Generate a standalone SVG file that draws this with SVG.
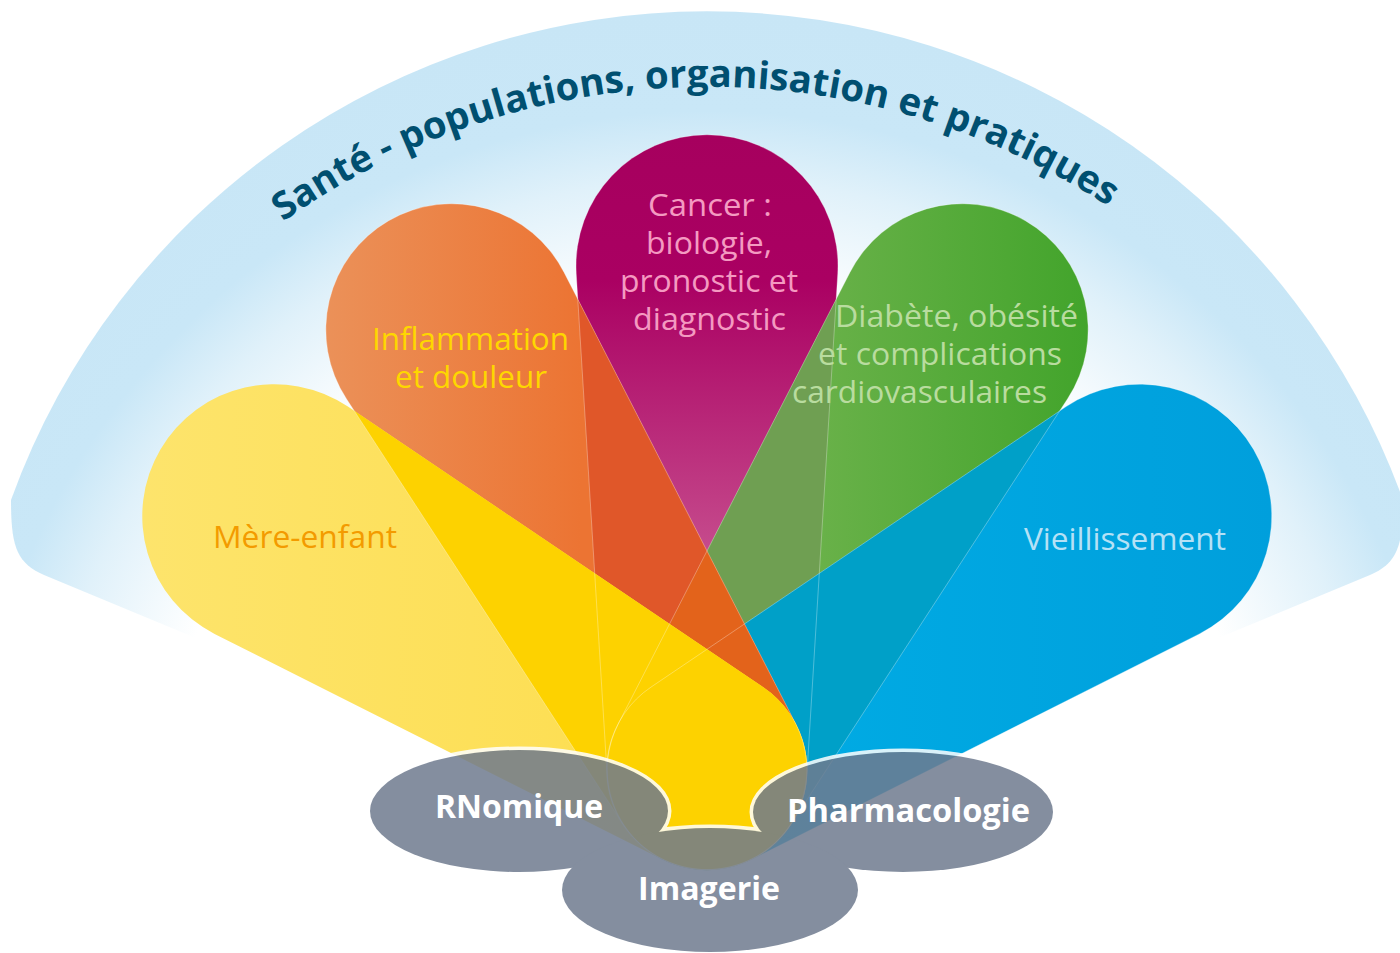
<svg xmlns="http://www.w3.org/2000/svg" xmlns:xlink="http://www.w3.org/1999/xlink" width="1400" height="953" viewBox="0 0 1400 953">
<defs>
<style>
.lbl{font-family:"Open Sans","Noto Sans","Liberation Sans",sans-serif;font-size:31px;font-weight:400}
.cl{font-family:"Open Sans","Noto Sans","Liberation Sans",sans-serif;font-size:32px;font-weight:700;fill:#ffffff}
.arc{font-family:"Open Sans","Noto Sans","Liberation Sans",sans-serif;font-size:38px;font-weight:700;fill:#004f70}
.edge{fill:none;stroke:#ffffff;stroke-opacity:0.3;stroke-width:1}
</style>
<radialGradient id="gBg" gradientUnits="userSpaceOnUse" cx="707" cy="850" r="840">
<stop offset="0" stop-color="#ffffff"/>
<stop offset="0.66" stop-color="#ffffff"/>
<stop offset="0.8" stop-color="#e0f1fa"/>
<stop offset="0.88" stop-color="#c9e7f7"/>
<stop offset="1" stop-color="#c8e6f6"/>
</radialGradient>
<linearGradient id="gME" gradientUnits="userSpaceOnUse" x1="142" y1="0" x2="800" y2="0">
<stop offset="0" stop-color="#fde46c"/>
<stop offset="1" stop-color="#fddc48"/>
</linearGradient>
<linearGradient id="gInfl" gradientUnits="userSpaceOnUse" x1="325" y1="0" x2="580" y2="0">
<stop offset="0" stop-color="#eb9159"/>
<stop offset="1" stop-color="#ec7433"/>
</linearGradient>
<linearGradient id="gCancer" gradientUnits="userSpaceOnUse" x1="0" y1="134" x2="0" y2="620">
<stop offset="0" stop-color="#a6005e"/>
<stop offset="0.3" stop-color="#aa0062"/>
<stop offset="0.85" stop-color="#c54a8c"/>
<stop offset="1" stop-color="#c8508f"/>
</linearGradient>
<linearGradient id="gDiab" gradientUnits="userSpaceOnUse" x1="700" y1="0" x2="1090" y2="0">
<stop offset="0" stop-color="#7ab756"/>
<stop offset="1" stop-color="#42a42b"/>
</linearGradient>
<linearGradient id="gVieil" gradientUnits="userSpaceOnUse" x1="700" y1="0" x2="1273" y2="0">
<stop offset="0" stop-color="#00ade5"/>
<stop offset="1" stop-color="#009fdc"/>
</linearGradient>
<path id="pME" d="M347.9,406.6 L763.0,687.1 A100,100 0 0 1 662.0,859.3 L214.6,633.9 A132,132 0 1 1 347.9,406.6 Z"/>
<path id="pInfl" d="M564.1,272.5 L796.0,724.4 A100,100 0 0 1 623.2,824.5 L346.4,398.7 A126,126 0 1 1 564.1,272.5 Z"/>
<path id="pCancer" d="M837.8,273 L806.8,776.1 A100,100 0 0 1 607.2,776.1 L576.2,273 A131,131 0 1 1 837.8,273 Z"/>
<path id="pDiab" d="M1067.6,398.7 L790.8,824.5 A100,100 0 0 1 618.0,724.4 L849.9,272.5 A126,126 0 1 1 1067.6,398.7 Z"/>
<path id="pVieil" d="M1199.4,633.9 L752.0,859.3 A100,100 0 0 1 651.0,687.1 L1066.1,406.6 A132,132 0 1 1 1199.4,633.9 Z"/>
<clipPath id="cCancer"><use xlink:href="#pCancer"/></clipPath>
<clipPath id="cDiab"><use xlink:href="#pDiab"/></clipPath>
<clipPath id="cOthers"><use xlink:href="#pInfl"/><use xlink:href="#pCancer"/><use xlink:href="#pDiab"/><use xlink:href="#pVieil"/></clipPath>
<path id="arcPath" d="M-14.9,692.7 A733,733 0 0 1 1428.9,692.7"/>
<ellipse id="eR" cx="519" cy="811" rx="149" ry="61"/>
<ellipse id="eP" cx="903" cy="812" rx="150" ry="60"/>
<ellipse id="eI" cx="710" cy="890" rx="148" ry="62"/>
</defs>

<g id="background">
<path d="M707,850 L44,575 C16,563 11,545 11,500 A740,740 0 0 1 1403,500 C1403,545 1398,563 1370,575 Z" fill="url(#gBg)"/>
</g>

<g id="title">
<text class="arc"><textPath xlink:href="#arcPath" startOffset="1010" text-anchor="middle" textLength="877" lengthAdjust="spacingAndGlyphs">Santé - populations, organisation et pratiques</textPath></text>
</g>

<g id="petals">
<g id="node-cancer">
<use xlink:href="#pCancer" fill="url(#gCancer)"/>
</g>
<g id="node-diabete">
<use xlink:href="#pDiab" fill="url(#gDiab)"/>
<use xlink:href="#pDiab" fill="#6f9f52" clip-path="url(#cCancer)"/>
</g>
<g id="node-vieillissement">
<use xlink:href="#pVieil" fill="url(#gVieil)"/>
<use xlink:href="#pVieil" fill="#00a0c8" clip-path="url(#cDiab)"/>
</g>
<g id="node-inflammation">
<use xlink:href="#pInfl" fill="url(#gInfl)"/>
<use xlink:href="#pInfl" fill="#e05729" clip-path="url(#cCancer)"/>
<use xlink:href="#pInfl" fill="#e3631b" clip-path="url(#cDiab)"/>
</g>
<g id="node-mere-enfant">
<use xlink:href="#pME" fill="url(#gME)"/>
<use xlink:href="#pME" fill="#fdd200" clip-path="url(#cOthers)"/>
</g>
<g id="petal-edges">
<use xlink:href="#pCancer" class="edge"/>
<use xlink:href="#pDiab" class="edge"/>
<use xlink:href="#pVieil" class="edge"/>
<use xlink:href="#pInfl" class="edge"/>
</g>
</g>

<g id="petal-labels">
<text class="lbl" fill="#f39b00" x="213" y="548" textLength="184" lengthAdjust="spacingAndGlyphs">Mère-enfant</text>
<text class="lbl" fill="#fed700" x="372" y="350" textLength="197" lengthAdjust="spacingAndGlyphs">Inflammation</text>
<text class="lbl" fill="#fed700" x="395" y="388" textLength="152" lengthAdjust="spacingAndGlyphs">et douleur</text>
<text class="lbl" fill="#f49ac1" x="648" y="216" textLength="124" lengthAdjust="spacingAndGlyphs">Cancer :</text>
<text class="lbl" fill="#f49ac1" x="646" y="254" textLength="126" lengthAdjust="spacingAndGlyphs">biologie,</text>
<text class="lbl" fill="#f49ac1" x="620" y="292" textLength="178" lengthAdjust="spacingAndGlyphs">pronostic et</text>
<text class="lbl" fill="#f49ac1" x="633" y="330" textLength="153" lengthAdjust="spacingAndGlyphs">diagnostic</text>
<text class="lbl" fill="#b9dc9f" x="835" y="327" textLength="243" lengthAdjust="spacingAndGlyphs">Diabète, obésité</text>
<text class="lbl" fill="#b9dc9f" x="818" y="365" textLength="244" lengthAdjust="spacingAndGlyphs">et complications</text>
<text class="lbl" fill="#b9dc9f" x="792" y="403" textLength="255" lengthAdjust="spacingAndGlyphs">cardiovasculaires</text>
<text class="lbl" fill="#b5e1f6" x="1024" y="550" textLength="202" lengthAdjust="spacingAndGlyphs">Vieillissement</text>
</g>

<g id="cloud" opacity="0.85">
<g fill="none" stroke="#ffffff" stroke-width="7">
<use xlink:href="#eR"/><use xlink:href="#eP"/><use xlink:href="#eI"/>
</g>
<g fill="#6f7b8f">
<use xlink:href="#eR"/><use xlink:href="#eP"/><use xlink:href="#eI"/>
</g>
</g>
<g id="node-rnomique"><text class="cl" x="435" y="818" textLength="168" lengthAdjust="spacingAndGlyphs">RNomique</text></g>
<g id="node-imagerie"><text class="cl" x="638" y="900" textLength="142" lengthAdjust="spacingAndGlyphs">Imagerie</text></g>
<g id="node-pharmacologie"><text class="cl" x="787" y="822" textLength="243" lengthAdjust="spacingAndGlyphs">Pharmacologie</text></g>
<g id="connectors"/>
</svg>
